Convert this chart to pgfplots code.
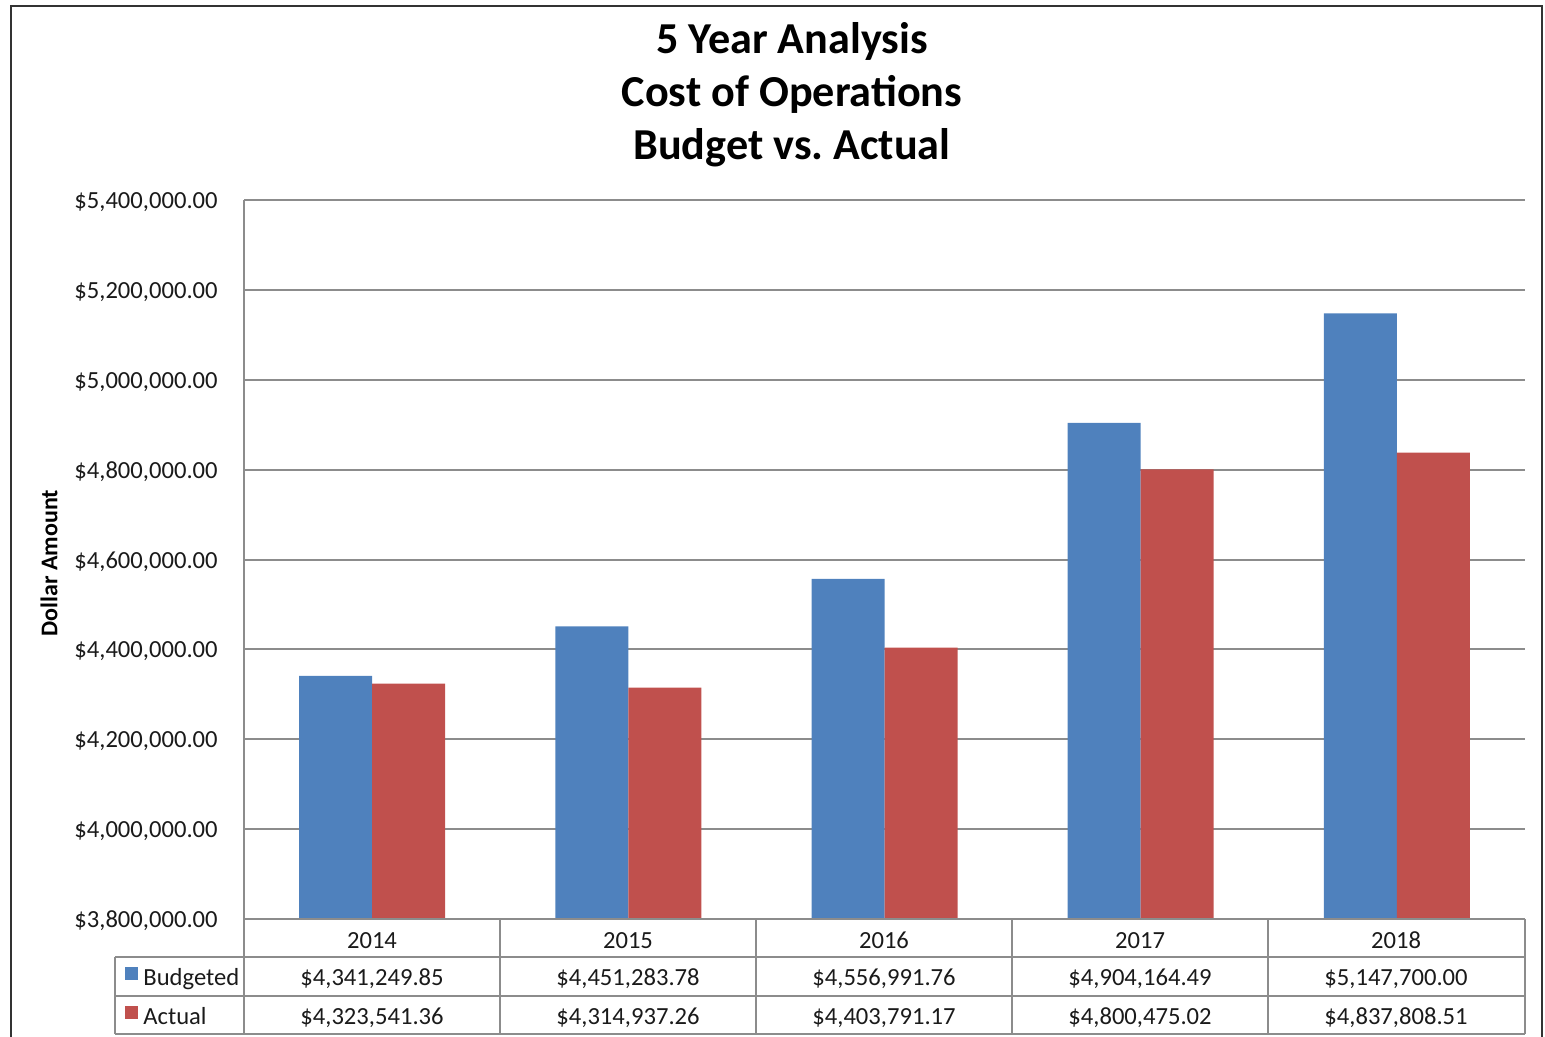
\documentclass[border=0pt]{standalone}
\usepackage{pgfplots}
\pgfplotsset{compat=1.18}
\usepackage{fontspec}
\setmainfont{Carlito}
\frenchspacing
\definecolor{xblue}{HTML}{4F81BD}
\definecolor{xred}{HTML}{C0504D}
\definecolor{xgrid}{HTML}{8C8C8C}
\definecolor{xtext}{HTML}{1A1A1A}
\begin{document}
\begin{tikzpicture}
\begin{axis}[
  at={(122pt,-459.5pt)}, anchor=south west,
  scale only axis, width=640.5pt, height=359.5pt,
  ybar=0pt, bar width=36.5pt,
  xmin=-0.5, xmax=4.5, ymin=3800000, ymax=5400000,
  xtick=\empty,
  scaled y ticks=false,
  ytick={3800000,4000000,4200000,4400000,4600000,4800000,5000000,5200000,5400000},
  yticklabels={{\$3,800,000.00},{\$4,000,000.00},{\$4,200,000.00},{\$4,400,000.00},{\$4,600,000.00},{\$4,800,000.00},{\$5,000,000.00},{\$5,200,000.00},{\$5,400,000.00}},
  ymajorgrids, grid style={xgrid, line width=1pt},
  axis line style={draw=none},
  major tick length=0pt,
  yticklabel style={font=\fontsize{12.3}{14}\selectfont, text=xtext, anchor=east, inner sep=0pt, xshift=-13pt, yshift=-1pt},
]
\addplot[fill=xblue, draw=none] coordinates {(0,4341249.85) (1,4451283.78) (2,4556991.76) (3,4904164.49) (4,5147700.00)};
\addplot[fill=xred, draw=none] coordinates {(0,4323541.36) (1,4314937.26) (2,4403791.17) (3,4800475.02) (4,4837808.51)};
\end{axis}
\begin{scope}[x=0.5pt,y=-0.5pt]
  % outer frame
  \draw[line width=1.1pt, color=black!80] (11,1050) -- (11,6) -- (1542,6) -- (1542,1050);
  % left axis line
  \draw[xgrid, line width=1pt] (244,200) -- (244,919);
  % title
  \node[anchor=base, font=\fontsize{22.1}{26}\selectfont\bfseries] at (792,54) {5 Year Analysis};
  \node[anchor=base, font=\fontsize{22.1}{26}\selectfont\bfseries] at (792,107) {Cost of Operations};
  \node[anchor=base, font=\fontsize{22.1}{26}\selectfont\bfseries] at (792,160) {Budget vs. Actual};
  % y label
  \node[rotate=90, font=\fontsize{12}{14}\selectfont\bfseries] at (49,563) {Dollar Amount};
  % data table
  \begin{scope}[xgrid, line width=1pt]
    \draw (244,919) -- (1525,919);
    \draw (115,957) -- (1525,957);
    \draw (115,996) -- (1525,996);
    \draw (115,1034) -- (1525,1034);
    \foreach \xx in {244,500,756,1012,1268,1525} {\draw (\xx,919) -- (\xx,1034);}
    \draw (115,957) -- (115,1034);
  \end{scope}
  \fill[xblue] (125,967) rectangle (138,980);
  \fill[xred] (125,1006) rectangle (138,1019);
  \begin{scope}[every node/.style={font=\fontsize{12.3}{14}\selectfont, text=xtext, inner sep=0pt, anchor=base}]
    \node[anchor=base west] at (143,985) {Budgeted};
    \node[anchor=base west] at (143,1024) {Actual};
    \node at (372,948) {2014};
    \node at (628,948) {2015};
    \node at (884,948) {2016};
    \node at (1140,948) {2017};
    \node at (1396,948) {2018};
    \node at (372,985) {\$4,341,249.85};
    \node at (628,985) {\$4,451,283.78};
    \node at (884,985) {\$4,556,991.76};
    \node at (1140,985) {\$4,904,164.49};
    \node at (1396,985) {\$5,147,700.00};
    \node at (372,1024) {\$4,323,541.36};
    \node at (628,1024) {\$4,314,937.26};
    \node at (884,1024) {\$4,403,791.17};
    \node at (1140,1024) {\$4,800,475.02};
    \node at (1396,1024) {\$4,837,808.51};
  \end{scope}
  \pgfresetboundingbox
  \useasboundingbox (0,0) rectangle (1545,1037);
\end{scope}
\end{tikzpicture}
\end{document}
